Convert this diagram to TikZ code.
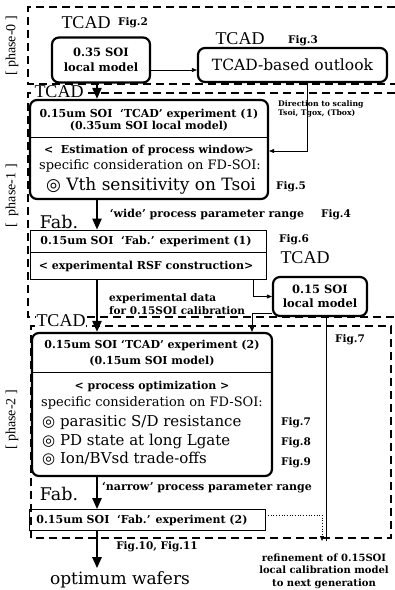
\documentclass[tikz,border=0pt]{standalone}
\usepackage{fontspec}
\setmainfont{DejaVu Serif}
\newfontfamily\tcadfont{Liberation Serif}
\newfontfamily\symfont{DejaVu Sans}
\usetikzlibrary{arrows.meta,positioning,calc}

\newcommand{\fsz}[1]{\fontsize{#1}{#1}\selectfont}
\newcommand{\dcirc}{{\symfont ◎}}

\tikzset{
  phasebox/.style={dash pattern=on 8pt off 5pt, line width=1.1pt},
  modelbox/.style={draw, rounded corners=7pt, line width=2.2pt, inner sep=0pt, align=center},
  fabbox/.style={draw, line width=0.7pt, inner sep=0pt},
  flow/.style={line width=2.4pt, -{Triangle[width=9pt,length=11pt]}},
  link/.style={line width=0.7pt, -{Triangle[width=4pt,length=5pt]}},
  tcadlbl/.style={font=\tcadfont\fsz{18}, inner sep=1pt},
  figlbl/.style={font=\bfseries\fsz{10.5}, inner sep=0pt},
  boxtxt/.style={font=\bfseries\fsz{11}, inner sep=0pt},
  bigtxt/.style={inner sep=0pt},
  phaselbl/.style={font=\tcadfont\fsz{14}, rotate=90, inner sep=0pt},
}

\begin{document}
\begin{tikzpicture}[x=1pt,y=-1pt]
    \useasboundingbox (0,0) rectangle (395,590);
    \coordinate (spine) at (97,0);

    % Phases
    \draw[phasebox] (395,7) -- (28,7) -- (28,84) -- (395,84);
    \draw[phasebox] (395,93) -- (28,93) -- (28,317) -- (395,317);
    \draw[phasebox] (31,538) -- (31,326) -- (391,326) -- (391,538) -- cycle;
    \node[phaselbl] (ph0) at (12,46) {[ phase-0 ]};
    \node[phaselbl] (ph1) at (12,196) {[\ \ phase-1\ ]};
    \node[phaselbl] (ph2) at (12,420) {[ phase-2 ]};

    % phase-0
    \node[modelbox, minimum width=98pt, minimum height=45pt, font=\bfseries\fsz{11.5}] (loc35) at (101,60) {0.35 SOI\\[3pt]local model};
    \node[tcadlbl] (tcad0) at (86,23) {TCAD};
    \node[figlbl] (fig2) at (133,23) {Fig.2};
    \node[modelbox, minimum width=189pt, minimum height=34pt, font=\fsz{15.5}] (outlook) at (292.5,65) {TCAD-based outlook};
    \node[tcadlbl] (tcad0b) at (240,39) {TCAD};
    \node[figlbl] (fig3) at (303,41) {Fig.3};

    % phase-1
    \node[tcadlbl, fill=white] (tcad1) at (59,92) {TCAD};
    \node[modelbox, minimum width=238pt, minimum height=99pt] (tcadone) at (149,149.5) {};
    \coordinate (div1) at (0,137);
    \draw[line width=0.7pt] (tcadone.west |- div1) -- (tcadone.east |- div1);
    \node[boxtxt] (t1a) at (149,114) {0.15um SOI\ \ `TCAD' experiment (1)};
    \node[boxtxt] (t1b) at (149,126) {(0.35um SOI local model)};
    \node[boxtxt] (t1c) at (149,150) {<\ \ Estimation of process window>};
    \node[bigtxt, font=\fsz{13}] (t1d) at (150,166) {specific consideration on FD-SOI:};
    \node[bigtxt, font=\fsz{17}] (t1e) at (151,186) {\dcirc\ Vth sensitivity on Tsoi};
    \node[figlbl] (fig5) at (291,187) {Fig.5};
    \node[font=\bfseries\fsz{7.7}, align=left, anchor=west, inner sep=0pt] (dirlbl) at (278,109) {Direction to scaling\\[1pt]Tsoi, Tgox, (Tbox)};

    \node[font=\fsz{17.5}] (fab1) at (59,222) {Fab.};
    \node[boxtxt] (wide) at (207,215) {`wide' process parameter range};
    \node[figlbl] (fig4) at (336,215) {Fig.4};

    \node[fabbox, minimum width=236pt, minimum height=49pt] (fabone) at (148,254.5) {};
    \coordinate (div2) at (0,252);
    \draw[line width=0.7pt] (fabone.west |- div2) -- (fabone.east |- div2);
    \node[boxtxt] (f1a) at (146,241) {0.15um SOI\ \ `Fab.' experiment (1)};
    \node[boxtxt] (f1b) at (146,266) {< experimental RSF construction>};
    \node[figlbl] (fig6) at (294,240) {Fig.6};
    \node[tcadlbl] (tcad1b) at (305,258) {TCAD};

    \node[modelbox, minimum width=94pt, minimum height=39pt, font=\bfseries\fsz{11.5}] (loc15) at (320,296.5) {0.15 SOI\\[2pt]local model};
    \node[boxtxt, font=\bfseries\fsz{10.5}, align=left, anchor=west] (expdata) at (109,304) {experimental data\\[2pt]for 0.15SOI calibration};

    % phase-2
    \node[tcadlbl, fill=white] (tcad2) at (61,321) {TCAD};
    \node[modelbox, minimum width=240pt, minimum height=143pt] (tcadtwo) at (152,404.5) {};
    \coordinate (div3) at (0,372);
    \draw[line width=0.7pt] (tcadtwo.west |- div3) -- (tcadtwo.east |- div3);
    \node[boxtxt] (t2a) at (152,345) {0.15um SOI `TCAD' experiment (2)};
    \node[boxtxt] (t2b) at (152,361) {(0.15um SOI model)};
    \node[boxtxt] (t2c) at (152,386) {< process optimization >};
    \node[bigtxt, font=\fsz{13}] (t2d) at (152,403) {specific consideration on FD-SOI:};
    \node[bigtxt, font=\fsz{15}, anchor=west] (t2e) at (42,422) {\dcirc\ parasitic S/D resistance};
    \node[bigtxt, font=\fsz{15}, anchor=west] (t2f) at (42,441) {\dcirc\ PD state at long Lgate};
    \node[bigtxt, font=\fsz{15}, anchor=west] (t2g) at (42,459) {\dcirc\ Ion/BVsd trade-offs};
    \node[figlbl] (fig7) at (296,423) {Fig.7};
    \node[figlbl] (fig8) at (296,443) {Fig.8};
    \node[figlbl] (fig9) at (296,463) {Fig.9};
    \node[figlbl] (fig7b) at (350,340) {Fig.7};

    \node[font=\fsz{17.5}] (fab2) at (59,494) {Fab.};
    \node[boxtxt] (narrow) at (207,488) {`narrow' process parameter range};
    \node[fabbox, minimum width=236pt, minimum height=21pt] (fabtwo) at (147,520) {};
    \node[boxtxt] (f2a) at (142,520) {0.15um SOI\ \ `Fab.' experiment (2)};

    \node[font=\bfseries\fsz{10}, align=center] (refinetxt) at (324,571) {refinement of 0.15SOI\\[2.5pt]local calibration model\\[2.5pt]to next generation};
    \node[font=\fsz{17}] (wafers) at (120,580) {optimum wafers};
    \node[figlbl] (fig1011) at (157,547) {Fig.10, Fig.11};

    % Connectors
    \coordinate (ab) at (0,70);
    \draw[link] (loc35.east |- ab) -- (outlook.west |- ab);
    \coordinate (dirx) at (307,0);
    \coordinate (diry) at (0,151);
    \draw[link] (outlook.south -| dirx) |- (tcadone.east |- diry);
    \draw[flow] (loc35.south -| spine) -- (tcadone.north -| spine);
    \draw[flow] (tcadone.south -| spine) -- (fabone.north -| spine);
    \coordinate (dex) at (253,0);
    \draw[link] (fabone.south -| dex) |- (loc15.west);
    \draw[flow] (fabone.south -| spine) -- (tcadtwo.north -| spine);
    \coordinate (efx) at (252,0);
    \coordinate (efy) at (0,313);
    \draw[link] (loc15.west |- efy) -| (tcadtwo.north -| efx);
    \draw[flow] (tcadtwo.south -| spine) -- (fabtwo.north -| spine);
    \draw[flow] (fabtwo.south -| spine) -- (spine |- wafers.north);

    % Refinement
    \coordinate (refine) at (322,541);
    \coordinate (ex) at (326,0);
    \coordinate (gy) at (0,515);
    \draw[line width=0.7pt] (loc15.south -| ex) -- (ex |- refine);
    \draw[link, dotted] (fabtwo.east |- gy) -| (refine);
\end{tikzpicture}
\end{document}
